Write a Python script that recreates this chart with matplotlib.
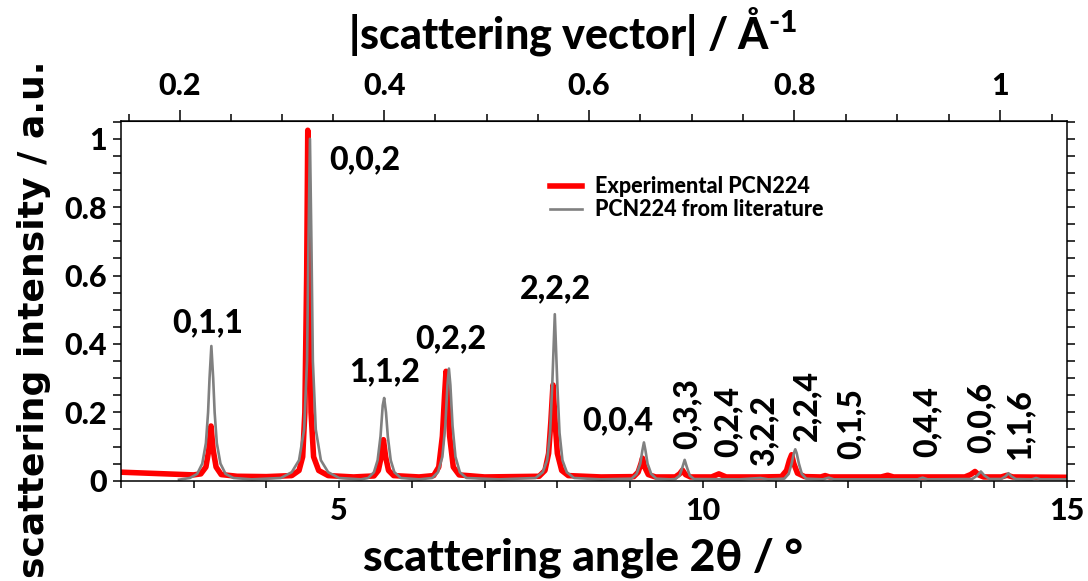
import numpy as np
import matplotlib
matplotlib.use('Agg')
import matplotlib.pyplot as plt
from matplotlib.ticker import FixedLocator, FuncFormatter

plt.rcParams['font.family'] = ['Lato', 'DejaVu Sans']
plt.rcParams['font.weight'] = 'black'
plt.rcParams['mathtext.fontset'] = 'custom'
plt.rcParams['mathtext.rm'] = 'Lato:black'
plt.rcParams['mathtext.bf'] = 'Lato:black'

# experimental pattern (2theta, intensity)
exp_tth = [2.0, 2.5, 3.0,
           3.10, 3.17, 3.21, 3.24, 3.27, 3.31, 3.38, 3.6, 4.0,
           4.35, 4.45, 4.50, 4.53, 4.555, 4.57, 4.59, 4.615, 4.65, 4.72, 4.85, 5.2,
           5.48, 5.54, 5.58, 5.61, 5.64, 5.68, 5.75, 6.1,
           6.30, 6.37, 6.42, 6.45, 6.47, 6.49, 6.52, 6.57, 6.65, 7.0,
           7.75, 7.83, 7.88, 7.91, 7.94, 7.97, 8.00, 8.06, 8.15, 8.6,
           9.05, 9.11, 9.15, 9.17, 9.20, 9.25, 9.35,
           9.62, 9.68, 9.72, 9.76, 9.83,
           10.12, 10.22, 10.32, 10.8,
           11.08, 11.15, 11.19, 11.22, 11.25, 11.30, 11.40,
           11.62, 11.68, 11.74,
           12.45, 12.54, 12.62,
           13.6, 13.68, 13.74, 13.79, 13.86,
           14.10, 14.18, 14.26, 15.0]
exp_int = [0.025, 0.021, 0.017,
           0.020, 0.040, 0.090, 0.160, 0.090, 0.040, 0.018, 0.013, 0.012,
           0.015, 0.030, 0.070, 0.200, 0.600, 1.025, 0.600, 0.200, 0.070, 0.030, 0.015, 0.011,
           0.014, 0.030, 0.070, 0.120, 0.070, 0.030, 0.015, 0.011,
           0.015, 0.040, 0.130, 0.250, 0.320, 0.250, 0.130, 0.040, 0.017, 0.011,
           0.013, 0.030, 0.080, 0.170, 0.280, 0.170, 0.080, 0.030, 0.015, 0.011,
           0.012, 0.025, 0.050, 0.066, 0.040, 0.018, 0.011,
           0.011, 0.020, 0.031, 0.018, 0.011,
           0.011, 0.020, 0.011, 0.011,
           0.012, 0.030, 0.060, 0.076, 0.050, 0.022, 0.012,
           0.011, 0.015, 0.011,
           0.011, 0.016, 0.011,
           0.011, 0.018, 0.027, 0.017, 0.011,
           0.011, 0.016, 0.011, 0.010]

# literature pattern
lit_tth = [2.8, 2.95, 3.05, 3.12, 3.17, 3.20, 3.22, 3.245, 3.27, 3.29, 3.32, 3.37, 3.44, 3.55, 3.8,
           4.2, 4.35, 4.45, 4.52, 4.56, 4.58, 4.60, 4.62, 4.64, 4.68, 4.75, 4.85, 5.0, 5.3,
           5.40, 5.48, 5.53, 5.57, 5.60, 5.62, 5.645, 5.67, 5.71, 5.76, 5.85, 6.1,
           6.28, 6.36, 6.42, 6.46, 6.49, 6.51, 6.53, 6.56, 6.60, 6.66, 6.75, 7.2,
           7.70, 7.80, 7.86, 7.90, 7.93, 7.965, 8.00, 8.03, 8.07, 8.13, 8.23, 8.6,
           9.02, 9.09, 9.14, 9.17, 9.19, 9.21, 9.24, 9.29, 9.36, 9.55,
           9.62, 9.68, 9.72, 9.75, 9.78, 9.82, 9.88,
           10.5, 10.79, 10.9,
           11.12, 11.18, 11.22, 11.25, 11.27, 11.29, 11.32, 11.36, 11.42,
           11.65, 11.73, 11.8,
           12.95, 13.02, 13.09,
           13.70, 13.77, 13.82, 13.87, 13.94,
           14.10, 14.16, 14.20, 14.24, 14.30,
           14.52, 14.58, 14.64, 15.0]
lit_int = [0.003, 0.008, 0.020, 0.050, 0.110, 0.200, 0.300, 0.394, 0.300, 0.200, 0.110, 0.050, 0.020, 0.008, 0.004,
           0.008, 0.025, 0.060, 0.150, 0.350, 0.700, 1.000, 0.700, 0.350, 0.150, 0.060, 0.025, 0.008, 0.004,
           0.008, 0.025, 0.060, 0.130, 0.220, 0.242, 0.200, 0.130, 0.060, 0.025, 0.008, 0.004,
           0.008, 0.025, 0.070, 0.160, 0.280, 0.328, 0.280, 0.160, 0.070, 0.025, 0.008, 0.004,
           0.008, 0.025, 0.060, 0.140, 0.280, 0.487, 0.280, 0.140, 0.060, 0.025, 0.008, 0.004,
           0.006, 0.020, 0.050, 0.090, 0.112, 0.090, 0.050, 0.020, 0.006, 0.004,
           0.005, 0.015, 0.040, 0.061, 0.040, 0.015, 0.005,
           0.004, 0.008, 0.004,
           0.006, 0.020, 0.050, 0.080, 0.092, 0.080, 0.050, 0.020, 0.006,
           0.004, 0.009, 0.004,
           0.004, 0.009, 0.004,
           0.005, 0.015, 0.027, 0.015, 0.005,
           0.005, 0.013, 0.022, 0.013, 0.005,
           0.004, 0.008, 0.004, 0.004]

# reflection labels: text, x, y
hkl_flat = [('0,1,1', 3.19, 0.463), ('0,0,2', 5.35, 0.938), ('1,1,2', 5.62, 0.319),
            ('0,2,2', 6.53, 0.414), ('2,2,2', 7.97, 0.561), ('0,0,4', 8.83, 0.175)]
hkl_rot = [('0,3,3', 9.78, 0.195), ('0,2,4', 10.35, 0.172), ('3,2,2', 10.84, 0.148),
           ('2,2,4', 11.43, 0.221), ('0,1,5', 12.03, 0.166), ('0,4,4', 13.08, 0.172),
           ('0,0,6', 13.82, 0.186), ('1,1,6', 14.36, 0.163)]

bottom_major = [5, 10, 15]
bottom_minor = list(range(2, 16))
left_major = [0, 0.2, 0.4, 0.6, 0.8, 1.0]
left_minor = [i * 0.05 for i in range(22)]
top_major = [0.2, 0.4, 0.6, 0.8, 1.0]
top_minor = [0.15 + i * 0.05 for i in range(19)]

wl = 1.5406  # Cu K-alpha, Angstrom


def tth_to_q(t):
    return 4 * np.pi * np.sin(np.radians(np.asarray(t, float) / 2)) / wl


def q_to_tth(q):
    s = np.clip(np.asarray(q, float) * wl / (4 * np.pi), -1, 1)
    return 2 * np.degrees(np.arcsin(s))


fmt = FuncFormatter(lambda v, p: '{:g}'.format(round(v, 2)))

fig = plt.figure(figsize=(10.88, 5.81), dpi=100)
ax = fig.add_axes([0.111, 0.1726, 0.8694, 0.6191])

ax.plot(exp_tth, exp_int, color='red', lw=4.0, label='Experimental PCN224', solid_joinstyle='round')
ax.plot(lit_tth, lit_int, color='grey', lw=1.9, label='PCN224 from literature')

ax.set_xlim(2, 15)
ax.set_ylim(0, 1.052)

for s in ax.spines.values():
    s.set_linewidth(1.1)

ax.xaxis.set_major_locator(FixedLocator(bottom_major))
ax.xaxis.set_minor_locator(FixedLocator(bottom_minor))
ax.yaxis.set_major_locator(FixedLocator(left_major))
ax.yaxis.set_minor_locator(FixedLocator(left_minor))
ax.yaxis.set_major_formatter(fmt)
ax.tick_params(axis='x', which='both', direction='out', length=5, width=1.1, labelsize=22, pad=7)
ax.tick_params(axis='y', which='both', direction='out', length=6, width=1.1, labelsize=22, pad=4,
               right=True)

for t in hkl_flat:
    ax.text(t[1], t[2], t[0], fontsize=23, ha='center', va='center')
for t in hkl_rot:
    ax.text(t[1], t[2], t[0], fontsize=23, ha='center', va='center', rotation=90)

fig.text(0.536, 0.040, 'scattering angle 2θ / °', fontsize=32, ha='center', va='center')
fig.text(0.526, 0.946, r'|scattering vector| / Å$^{\text{-1}}$', fontsize=31, ha='center', va='center')
fig.text(0.031, 0.45, 'scattering intensity / a.u.', family='DejaVu Sans', fontsize=26,
         fontweight='bold', rotation=90, ha='center', va='center')

top = ax.secondary_xaxis('top', functions=(tth_to_q, q_to_tth))
top.xaxis.set_major_locator(FixedLocator(top_major))
top.xaxis.set_minor_locator(FixedLocator(top_minor))
top.xaxis.set_major_formatter(fmt)
top.tick_params(which='major', direction='out', length=8, width=1.1, labelsize=22, pad=7)
top.tick_params(which='minor', direction='out', length=5, width=1.1)

ax.legend(loc='center', bbox_to_anchor=(0.598, 0.785), frameon=False, fontsize=15.5,
          handlelength=1.5, handletextpad=0.6, borderpad=0, labelspacing=0.1)

fig.savefig('out.png', dpi=100)
